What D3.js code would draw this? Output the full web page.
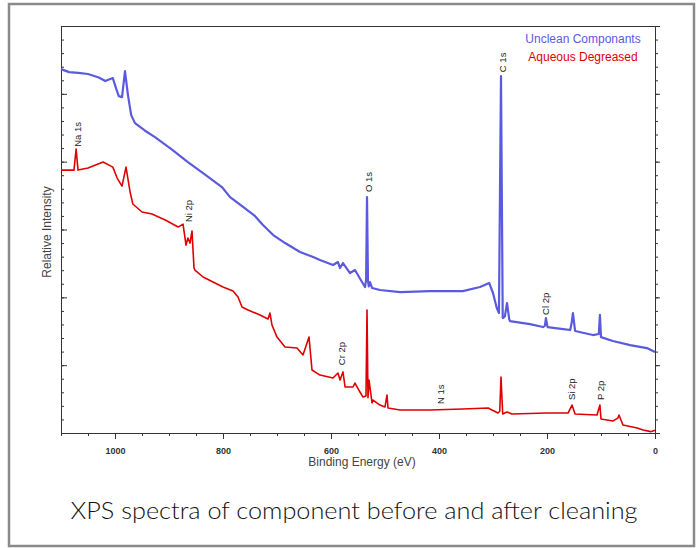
<!DOCTYPE html>
<html>
<head>
<meta charset="utf-8">
<script src="https://cdn.jsdelivr.net/npm/d3@7"></script>
<style>
  html, body { margin: 0; padding: 0; background: #fff; }
  svg { display: block; }
  .tick-label { font: bold 9px "Liberation Sans", Arial, sans-serif; fill: #333; }
  .axis-title { font: 12px "Liberation Sans", Arial, sans-serif; fill: #444; }
  .peak-label { font: 9.5px "Liberation Sans", Arial, sans-serif; fill: #222; }
  .legend { font: 12px "Liberation Sans", Arial, sans-serif; }
  .caption { font: 300 24px "Lato", "Open Sans", sans-serif; fill: #111; }
</style>
</head>
<body>
<svg id="chart" width="696" height="548"></svg>
<script>
// binding energy (eV), relative intensity (arbitrary units, 0..30)
const uncleanSpectrum = [
  [1100, 26.82], [1085, 26.6], [1068, 26.55], [1050, 26.46], [1030, 26.2], [1018, 25.94],
  [1004, 26.16], [998, 25.4], [993, 24.83], [987, 24.76], [981.5, 26.68], [976, 24.91],
  [970, 23.43], [963, 22.84], [945, 22.3], [926, 21.81], [895, 20.9], [865, 19.97],
  [835, 19.1], [802, 18.13], [787, 17.39], [772, 16.95], [741, 16.0], [726, 15.33],
  [707, 14.59], [685, 14.0], [657.4, 13.34], [633, 12.97], [620.4, 12.75], [596.3, 12.38],
  [587, 12.6], [583.3, 12.16], [577.8, 12.53], [564.8, 11.79], [555.6, 12.01],
  [542.6, 11.13], [537, 10.76], [535, 11.3], [533.3, 17.39], [531.5, 11.2], [530, 10.8],
  [527.8, 11.13], [524, 10.69], [509.3, 10.54], [472, 10.39], [417, 10.46], [356, 10.46],
  [324, 10.76], [307, 11.05], [300, 10.32], [293, 9.21], [289, 8.84], [285.2, 26.31],
  [282, 8.47], [278, 8.6], [274, 9.58], [270, 8.4], [268.5, 8.25], [231.5, 8.03],
  [207.4, 7.81], [204, 7.9], [202, 8.47], [199, 7.81], [170, 7.66], [157, 7.59],
  [154, 8.2], [152, 8.84], [148, 7.52], [115, 7.22], [104, 7.3], [102, 8.7], [100, 7.07],
  [78, 6.78], [46, 6.48], [15, 6.26], [0, 5.97]
];

const degreasedSpectrum = [
  [1100, 19.38], [1076, 19.38], [1072, 20.93], [1068.5, 19.38], [1050, 19.53],
  [1022, 19.97], [1004, 19.6], [996, 18.79], [987, 18.2], [979.6, 19.6], [972, 17.76],
  [967, 16.88], [950, 16.29], [931.5, 16.14], [907, 15.7], [883, 15.18], [874, 15.4],
  [868.5, 13.85], [865, 14.37], [861, 14.0], [857.4, 14.89], [853.7, 12.16],
  [851.9, 12.01], [837, 11.5], [818.5, 11.13], [800, 10.76], [781.5, 10.46],
  [772.2, 10.02], [764.8, 9.29], [753.7, 9.07], [731.5, 8.7], [716.7, 8.4], [713, 8.84],
  [709.3, 7.96], [700, 7.07], [685.2, 6.34], [663, 6.26], [651.9, 5.75], [640.7, 7.07],
  [635.2, 4.64], [620.4, 4.27], [596.3, 4.05], [587, 4.42], [583.3, 3.91], [577.8, 4.5],
  [574, 3.39], [559.3, 3.39], [555.6, 3.68], [546.3, 3.02], [540.7, 2.65], [535.2, 2.73],
  [533.3, 9.06], [531.5, 2.6], [529.6, 3.9], [524, 2.21], [522.2, 2.43], [509.3, 2.06],
  [500, 1.92], [496.3, 2.8], [494.4, 1.84], [472, 1.69], [417, 1.69], [356, 1.77],
  [309, 1.84], [305.6, 1.77], [290.7, 1.47], [287.5, 1.6], [285.2, 4.13], [282, 1.4],
  [274, 1.55], [265, 1.4], [200, 1.47], [161, 1.47], [153.7, 2.06], [148, 1.4],
  [107.4, 1.33], [102, 2.06], [100, 1.03], [78, 0.88], [68.5, 1.11], [66.7, 1.33],
  [59.3, 0.59], [33, 0.37], [22, 0.22], [8, 0.1], [0, 0.2]
];

// label, binding energy, intensity at the foot of the rotated label
const peakLabels = [
  ["Na 1s", 1070, 21.1], ["Ni 2p", 863, 15.55], ["O 1s", 530, 17.76],
  ["C 1s", 283, 26.6], ["Cl 2p", 202, 8.7], ["Cr 2p", 581, 5.0],
  ["N 1s", 396, 2.14], ["Si 2p", 154, 2.43], ["P 2p", 100, 2.43]
];

const energyTicks = [1000, 800, 600, 400, 200, 0];
const energyMinorTicks = d3.range(0, 1101, 50);
const intensityTicks = [0, 5, 10, 15, 20, 25, 30];
const intensityMinorTicks = d3.range(0, 31, 1);

const seriesNames = ["Unclean Componants", "Aqueous Degreased"];
const seriesColors = ["#5a5ae0", "#e00000"];

const dims = { left: 61, right: 655, top: 26, bottom: 433 };

const svg = d3.select("#chart");

svg.append("rect")
  .attr("x", 9).attr("y", 4)
  .attr("width", 685).attr("height", 542)
  .attr("fill", "#fff")
  .attr("stroke", "#8a8a8a")
  .attr("stroke-width", 2.5);

const x = d3.scaleLinear().domain([1100, 0]).range([dims.left, dims.right]);
const y = d3.scaleLinear().domain([0, 30]).range([dims.bottom, dims.top]);

const axisColor = "#333";
function styleAxis(g) {
  g.selectAll("path, line").attr("stroke", axisColor);
  g.selectAll("text").remove();
}

// minor / major ticks on the left (inward)
svg.append("g")
  .attr("transform", `translate(${dims.left},0)`)
  .call(d3.axisRight(y).tickValues(intensityMinorTicks).tickSize(3).tickSizeOuter(0))
  .call(styleAxis);
svg.append("g")
  .attr("transform", `translate(${dims.left},0)`)
  .call(d3.axisRight(y).tickValues(intensityTicks).tickSize(6).tickSizeOuter(0))
  .call(styleAxis);

// right side (outward)
svg.append("g")
  .attr("transform", `translate(${dims.right},0)`)
  .call(d3.axisRight(y).tickValues(intensityMinorTicks).tickSize(3).tickSizeOuter(0))
  .call(styleAxis);
svg.append("g")
  .attr("transform", `translate(${dims.right},0)`)
  .call(d3.axisRight(y).tickValues(intensityTicks).tickSize(5).tickSizeOuter(0))
  .call(styleAxis);

// top border
svg.append("g")
  .attr("transform", `translate(0,${dims.top})`)
  .call(d3.axisTop(x).tickValues([]).tickSizeOuter(0))
  .call(styleAxis);

// bottom axis
svg.append("g")
  .attr("transform", `translate(0,${dims.bottom})`)
  .call(d3.axisBottom(x).tickValues(energyMinorTicks).tickSize(3).tickSizeOuter(0))
  .call(styleAxis);
const xMajor = svg.append("g")
  .attr("transform", `translate(0,${dims.bottom})`)
  .call(d3.axisBottom(x).tickValues(energyTicks).tickFormat(d3.format("d"))
    .tickSize(6).tickSizeOuter(0).tickPadding(9));
xMajor.selectAll("path, line").attr("stroke", axisColor);
xMajor.attr("font-size", null).attr("font-family", null);
xMajor.selectAll("text").attr("class", "tick-label");

svg.append("text")
  .attr("class", "axis-title")
  .attr("x", 362).attr("y", 466)
  .attr("text-anchor", "middle")
  .text("Binding Energy (eV)");

svg.append("text")
  .attr("class", "axis-title")
  .attr("transform", "translate(51,232) rotate(-90)")
  .attr("text-anchor", "middle")
  .text("Relative Intensity");

// spectra
const line = d3.line()
  .x((d) => x(d[0]))
  .y((d) => y(d[1]));

svg.append("g")
  .selectAll("path")
  .data([uncleanSpectrum, degreasedSpectrum])
  .join("path")
  .attr("fill", "none")
  .attr("stroke", (d, i) => seriesColors[i])
  .attr("stroke-width", (d, i) => (i === 0 ? 2.2 : 1.6))
  .attr("stroke-linejoin", "round")
  .attr("d", line);

// peak labels
svg.append("g")
  .selectAll("text")
  .data(peakLabels)
  .join("text")
  .attr("class", "peak-label")
  .attr("transform", (d) => `translate(${x(d[1])},${y(d[2])}) rotate(-90)`)
  .attr("dy", "0.35em")
  .text((d) => d[0]);

// legend
svg.append("g")
  .selectAll("text")
  .data(seriesNames)
  .join("text")
  .attr("class", "legend")
  .attr("x", 583)
  .attr("y", (d, i) => 43 + i * 18)
  .attr("text-anchor", "middle")
  .attr("fill", (d, i) => seriesColors[i])
  .text((d) => d);

svg.append("text")
  .attr("class", "caption")
  .attr("x", 354).attr("y", 519)
  .attr("text-anchor", "middle")
  .attr("textLength", 567)
  .attr("lengthAdjust", "spacingAndGlyphs")
  .text("XPS spectra of component before and after cleaning");
</script>
</body>
</html>
